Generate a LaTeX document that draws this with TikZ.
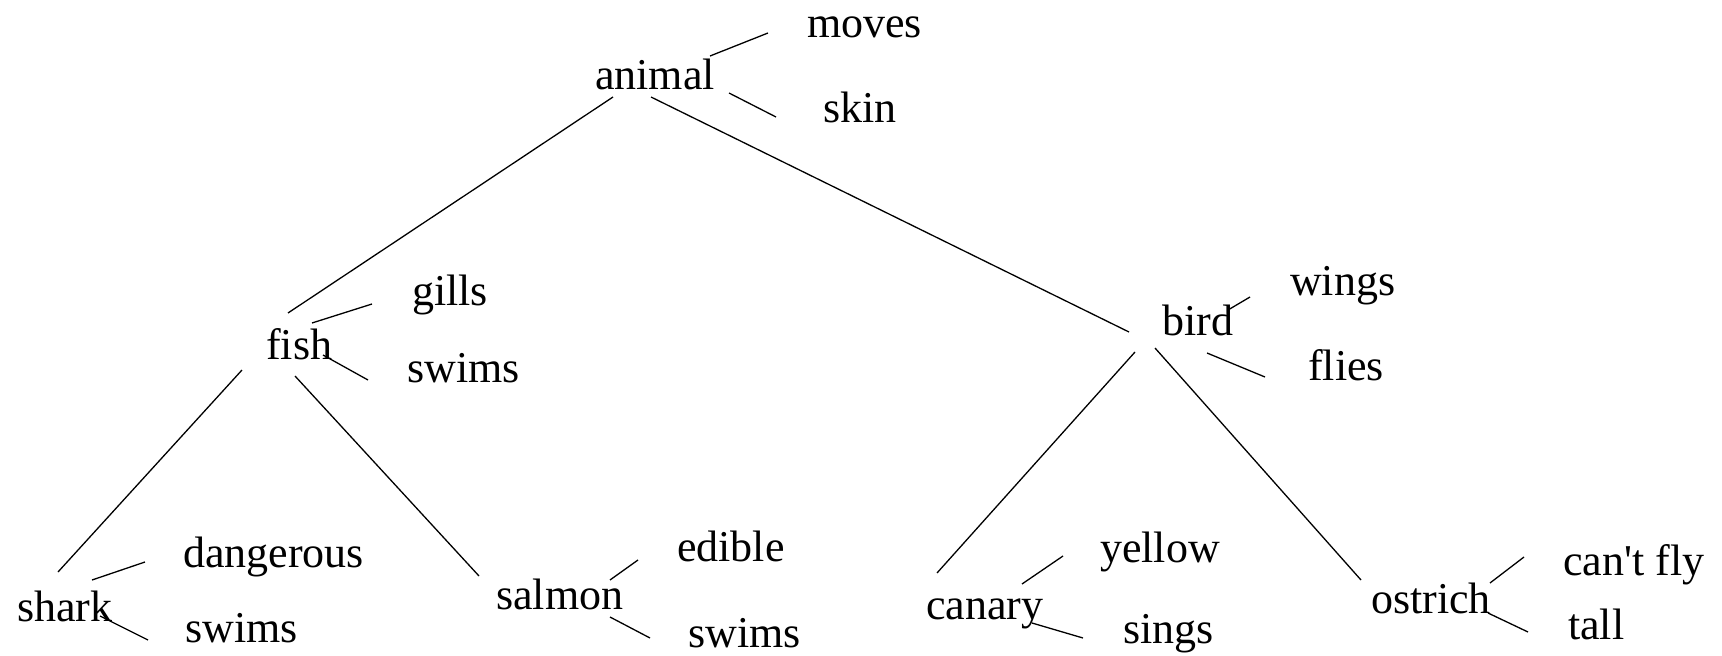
\documentclass[tikz,border=0pt]{standalone}
\usepackage{fontspec}
\setmainfont{Liberation Serif}
\begin{document}
\begin{tikzpicture}[x=1pt,y=-1pt,
  lbl/.style={anchor=base west, inner sep=0pt, font=\fontsize{44}{53}\selectfont},
  link/.style={draw=black, line width=1.3pt}]
\useasboundingbox (0,0) rectangle (1722,656);
% nodes
\node[lbl] (animal) at (595,89) {animal};
\node[lbl] (moves) at (807,37) {moves};
\node[lbl] (skin) at (823,122) {skin};
\node[lbl] (fish) at (266,359) {fish};
\node[lbl] (gills) at (412,305) {gills};
\node[lbl] (fswims) at (407,382) {swims};
\node[lbl] (bird) at (1162,335) {bird};
\node[lbl] (wings) at (1290,295) {wings};
\node[lbl] (flies) at (1308,380) {flies};
\node[lbl] (shark) at (17,621) {shark};
\node[lbl] (dangerous) at (183,567) {dangerous};
\node[lbl] (shswims) at (185,642) {swims};
\node[lbl] (salmon) at (496,609) {salmon};
\node[lbl] (edible) at (677,561) {edible};
\node[lbl] (saswims) at (688,647) {swims};
\node[lbl] (canary) at (926,619) {canary};
\node[lbl] (yellow) at (1100,562) {yellow};
\node[lbl] (sings) at (1123,643) {sings};
\node[lbl] (ostrich) at (1371,613) {ostrich};
\node[lbl] (cantfly) at (1563,575) {can\textquotesingle t fly};
\node[lbl] (tall) at (1568,639) {tall};
% connector end points
\coordinate (a1) at (710,56);  \coordinate (a2) at (768,33);
\coordinate (a3) at (729,93);  \coordinate (a4) at (776,117);
\coordinate (a5) at (613,97);  \coordinate (f0) at (288,313);
\coordinate (a6) at (651,97);  \coordinate (b0) at (1129,332);
\coordinate (f1) at (312,323); \coordinate (f2) at (372,304);
\coordinate (f3) at (323,355); \coordinate (f4) at (368,380);
\coordinate (f5) at (242,370); \coordinate (s0) at (58,572);
\coordinate (f6) at (295,376); \coordinate (m0) at (479,576);
\coordinate (b1) at (1228,310); \coordinate (b2) at (1250,297);
\coordinate (b3) at (1207,353); \coordinate (b4) at (1265,377);
\coordinate (b5) at (1135,352); \coordinate (c0) at (937,573);
\coordinate (b6) at (1155,348); \coordinate (o0) at (1361,580);
\coordinate (s1) at (92,580);  \coordinate (s2) at (145,562);
\coordinate (s3) at (100,616); \coordinate (s4) at (148,640);
\coordinate (m1) at (610,580); \coordinate (m2) at (638,560);
\coordinate (m3) at (610,617); \coordinate (m4) at (650,638);
\coordinate (c1) at (1022,584); \coordinate (c2) at (1063,556);
\coordinate (c3) at (1032,623); \coordinate (c4) at (1083,638);
\coordinate (o1) at (1490,583); \coordinate (o2) at (1524,557);
\coordinate (o3) at (1488,613); \coordinate (o4) at (1528,632);
% connectors
\draw[link] (a1) -- (a2);
\draw[link] (a3) -- (a4);
\draw[link] (a5) -- (f0);
\draw[link] (a6) -- (b0);
\draw[link] (f1) -- (f2);
\draw[link] (f3) -- (f4);
\draw[link] (f5) -- (s0);
\draw[link] (f6) -- (m0);
\draw[link] (b1) -- (b2);
\draw[link] (b3) -- (b4);
\draw[link] (b5) -- (c0);
\draw[link] (b6) -- (o0);
\draw[link] (s1) -- (s2);
\draw[link] (s3) -- (s4);
\draw[link] (m1) -- (m2);
\draw[link] (m3) -- (m4);
\draw[link] (c1) -- (c2);
\draw[link] (c3) -- (c4);
\draw[link] (o1) -- (o2);
\draw[link] (o3) -- (o4);
\end{tikzpicture}
\end{document}
